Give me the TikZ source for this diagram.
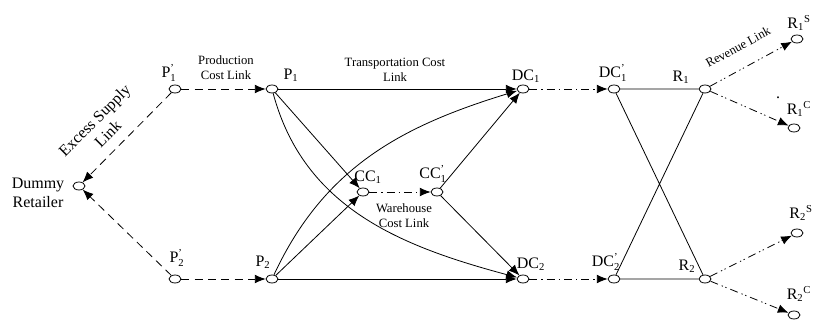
\documentclass[tikz,border=0pt]{standalone}
\usepackage{amsmath}
\usepackage{fontspec}
\setmainfont{Liberation Serif}
\usetikzlibrary{arrows.meta,shapes.geometric,positioning}
\tikzset{
	site/.style={
		draw, ellipse, fill=white,
		minimum width=9pt, minimum height=6pt,
		inner sep=0pt, line width=0.6pt
	},
}
\newcommand{\nd}[2]{$\text{#1}_{\text{#2}}$}
\newcommand{\ndp}[3]{$\text{#1}_{\text{#2}}^{\text{#3}}$}
\newcommand{\nds}[3]{$\text{#1}_{\text{#2}}{}^{\text{#3}}$}

\begin{document}
\begin{tikzpicture}[
		x=0.75pt, y=0.75pt,
		tag/.style={font=\fontsize{12}{14}\selectfont, inner sep=0pt, align=center},
		linktext/.style={font=\fontsize{9.5}{11}\selectfont, inner sep=0pt, align=center},
		flow/.style={-{Latex[length=8pt,width=6.5pt]}, line width=0.6pt},
		supply/.style={flow, dash pattern=on 6pt off 4pt},
		store/.style={flow, dash pattern=on 6pt off 3pt on 1pt off 3pt},
		sale/.style={flow, dash pattern=on 6pt off 3pt on 1pt off 2pt on 1pt off 3pt}
		]
		\useasboundingbox (0,0) rectangle (813,320);
		
		% network nodes
		\node[site] (dummy) at (79,134) {};
		\node[site] (p1p) at (175,231) {};
		\node[site] (p2p) at (175,41) {};
		\node[site] (p1) at (272,231) {};
		\node[site] (p2) at (272,41) {};
		\node[site] (cc1) at (363,128) {};
		\node[site] (cc1p) at (437,128) {};
		\node[site] (dc1) at (523,231) {};
		\node[site] (dc2) at (523,41) {};
		\node[site] (dc1p) at (614,231) {};
		\node[site] (dc2p) at (614,41) {};
		\node[site] (r1) at (705,231) {};
		\node[site] (r2) at (705,41) {};
		\node[site] (r1s) at (797,281) {};
		\node[site] (r1c) at (794,192) {};
		\node[site] (r2s) at (797,87) {};
		\node[site] (r2c) at (794,5) {};
		
		% node names
		\node[tag] (dummyt) at (38,127) {Dummy\\Retailer};
		\node[tag] (p1pt) at (169,247) {\ndp{P}{1}{'}};
		\node[tag] (p2pt) at (177,62) {\ndp{P}{2}{'}};
		\node[tag] (p1t) at (291,245) {\nd{P}{1}};
		\node[tag] (p2t) at (263,58) {\nd{P}{2}};
		\node[tag] (cc1t) at (368,143) {\nd{CC}{1}};
		\node[tag] (cc1pt) at (433,146) {\ndp{CC}{1}{'}};
		\node[tag] (dc1t) at (526,244) {\nd{DC}{1}};
		\node[tag] (dc1pt) at (613,247) {\ndp{DC}{1}{'}};
		\node[tag] (dc2t) at (531,56) {\nd{DC}{2}};
		\node[tag] (dc2pt) at (606,58) {\ndp{DC}{2}{'}};
		\node[tag] (r1t) at (681,243) {\nd{R}{1}};
		\node[tag] (r2t) at (687,54) {\nd{R}{2}};
		\node[tag] (r1st) at (799,297) {\nds{R}{1}{S}};
		\node[tag] (r1ct) at (799,211) {\nds{R}{1}{C}};
		\node[tag] (r2st) at (801,107) {\nds{R}{2}{S}};
		\node[tag] (r2ct) at (799,26) {\nds{R}{2}{C}};
		\node[tag, anchor=base] (stray) at (778,221) {.};
		
		% link names
		\node[tag, rotate=45] (excesst) at (101,193) {Excess Supply\\Link};
		\node[linktext] (prodt) at (226,252) {Production\\Cost Link};
		\node[linktext] (transt) at (395,250) {Transportation Cost\\Link};
		\node[linktext] (waret) at (404,104) {Warehouse\\Cost Link};
		\node[linktext, rotate=28.5] (revt) at (738,273) {Revenue Link};
		
		% links
		\draw[supply] (p1p) -- (dummy);
		\draw[supply] (p2p) -- (dummy);
		\draw[supply] (p1p) -- (p1);
		\draw[supply] (p2p) -- (p2);
		
		\draw[flow] (p1) -- (dc1);
		\draw[flow] (p1) -- (cc1);
		\draw[flow] (p1) to[out=-75,in=165] (dc2);
		\draw[flow] (p2) to[out=65,in=-163] (dc1);
		\draw[flow] (p2) -- (cc1);
		\draw[flow] (p2) -- (dc2);
		
		\draw[store] (cc1) -- (cc1p);
		\draw[flow] (cc1p) -- (dc1);
		\draw[flow] (cc1p) -- (dc2);
		\draw[store] (dc1) -- (dc1p);
		\draw[store] (dc2) -- (dc2p);
		
		\draw[line width=0.6pt] (dc1p) -- (r1) (dc1p) -- (r2) (dc2p) -- (r1) (dc2p) -- (r2);
		
		\draw[sale] (r1) -- (r1s);
		\draw[sale] (r1) -- (r1c);
		\draw[sale] (r2) -- (r2s);
		\draw[sale] (r2) -- (r2c);
	\end{tikzpicture}
\end{document}
